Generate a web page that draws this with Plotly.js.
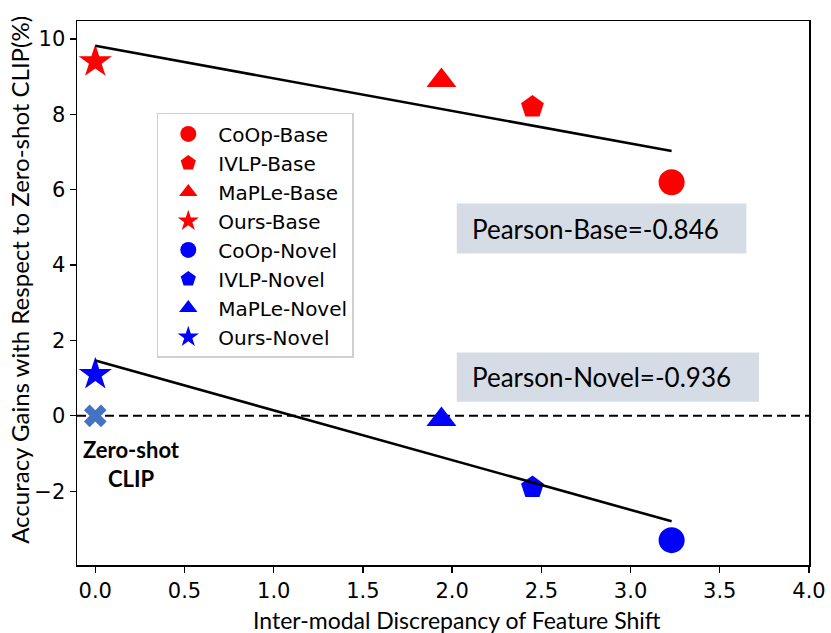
<!DOCTYPE html>
<html>
<head>
<meta charset="utf-8">
<script src="https://cdn.plot.ly/plotly-3.0.1.min.js"></script>
<style>
  html, body { margin: 0; padding: 0; background: #fff; }
  #chart { width: 831px; height: 633px; }
</style>
</head>
<body>
<div id="chart"></div>
<script>
// values
var methods = ['CoOp', 'IVLP', 'MaPLe', 'Ours'];
var shift = [3.23, 2.45, 1.94, 0.0];           // inter-modal discrepancy
var baseGain = [6.2, 8.2, 8.9, 9.4];           // gain on base classes (%)
var novelGain = [-3.3, -1.9, -0.1, 1.1];       // gain on novel classes (%)
var zeroShot = {x: [0.0], y: [0.0]};           // zero-shot CLIP reference point
var pearsonBase = '-0.846';
var pearsonNovel = '-0.936';

var symbols = ['circle', 'pentagon', 'triangle-up', 'star'];
var sizes = [26, 24, 26, 25];

// least-squares line through a group, drawn across its x extent
function fitLine(xs, ys) {
  var n = xs.length, mx = 0, my = 0;
  for (var i = 0; i < n; i++) { mx += xs[i]; my += ys[i]; }
  mx /= n; my /= n;
  var sxy = 0, sxx = 0;
  for (var i = 0; i < n; i++) {
    sxy += (xs[i] - mx) * (ys[i] - my);
    sxx += (xs[i] - mx) * (xs[i] - mx);
  }
  var k = sxy / sxx, b = my - k * mx;
  var x0 = Math.min.apply(null, xs), x1 = Math.max.apply(null, xs);
  return {x: [x0, x1], y: [b + k * x0, b + k * x1]};
}

var traces = [];
var groups = [
  {name: 'Base', vals: baseGain, color: '#ff0000'},
  {name: 'Novel', vals: novelGain, color: '#0000ff'}
];
groups.forEach(function (g) {
  for (var i = 0; i < methods.length; i++) {
    traces.push({
      type: 'scatter', mode: 'markers',
      name: methods[i] + '-' + g.name,
      x: [shift[i]], y: [g.vals[i]],
      marker: {symbol: symbols[i], size: sizes[i], color: g.color, line: {width: 0}}
    });
  }
});
groups.forEach(function (g) {
  var f = fitLine(shift, g.vals);
  traces.push({
    type: 'scatter', mode: 'lines', showlegend: false, hoverinfo: 'skip',
    x: f.x, y: f.y, line: {color: '#000', width: 2.6}
  });
});
traces.push({
  type: 'scatter', mode: 'markers', showlegend: false, name: 'Zero-shot CLIP',
  x: zeroShot.x, y: zeroShot.y,
  marker: {symbol: 'x', size: 20, color: '#4472c4', line: {width: 0}}
});

var tickFont = {family: 'DejaVu Sans', size: 21, color: '#000'};
var titleFont = {family: 'Lato', size: 23, color: '#000'};

var layout = {
  width: 831, height: 633,
  margin: {l: 77, r: 22, t: 21, b: 68},
  paper_bgcolor: '#fff', plot_bgcolor: '#fff',
  showlegend: true,
  legend: {
    x: 0.109, y: 0.831, xanchor: 'left', yanchor: 'top',
    bgcolor: '#fff', bordercolor: '#d0d0d0', borderwidth: 1.5,
    font: {family: 'DejaVu Sans', size: 20, color: '#000'},
    itemwidth: 50, tracegroupgap: 0
  },
  xaxis: {
    range: [-0.1025, 4.0], zeroline: false, showgrid: false,
    tickvals: [0, 0.5, 1, 1.5, 2, 2.5, 3, 3.5, 4],
    ticktext: ['0.0', '0.5', '1.0', '1.5', '2.0', '2.5', '3.0', '3.5', '4.0'],
    ticks: 'outside', ticklen: 6, tickwidth: 1.3, tickcolor: '#000',
    showline: true, mirror: true, linecolor: '#000', linewidth: 1.5,
    tickfont: tickFont
  },
  yaxis: {
    range: [-3.96, 10.48], zeroline: false, showgrid: false,
    tickvals: [-2, 0, 2, 4, 6, 8, 10],
    ticks: 'outside', ticklen: 6, tickwidth: 1.3, tickcolor: '#000',
    showline: true, mirror: true, linecolor: '#000', linewidth: 1.5,
    tickfont: tickFont
  },
  shapes: [
    {type: 'line', xref: 'paper', x0: 0, x1: 1, yref: 'y', y0: zeroShot.y[0], y1: zeroShot.y[0],
     line: {color: '#000', width: 2, dash: '9px,5px'}, layer: 'below'},
    {type: 'rect', xref: 'x', yref: 'y', x0: 2.026, x1: 3.649, y0: 4.308, y1: 5.634,
     fillcolor: '#d6dce5', line: {width: 0}, layer: 'below'},
    {type: 'rect', xref: 'x', yref: 'y', x0: 2.026, x1: 3.72, y0: 0.371, y1: 1.68,
     fillcolor: '#d6dce5', line: {width: 0}, layer: 'below'}
  ],
  annotations: [
    // axis titles as annotations so they can sit off-centre like the original
    {xref: 'paper', yref: 'paper', x: 0.519, y: -0.101, xanchor: 'center', yanchor: 'middle',
     showarrow: false, text: 'Inter-modal Discrepancy of Feature Shift', font: titleFont},
    {xref: 'paper', yref: 'paper', x: -0.078, y: 0.524, xanchor: 'center', yanchor: 'middle',
     showarrow: false, textangle: -90, text: 'Accuracy Gains with Respect to Zero-shot CLIP(%)',
     font: {family: 'Lato', size: 24, color: '#000'}},
    {xref: 'x', yref: 'y', x: 2.1, y: 4.97, xanchor: 'left', yanchor: 'middle', showarrow: false,
     text: 'Pearson-Base=' + pearsonBase, font: {family: 'Lato', size: 26, color: '#000'}},
    {xref: 'x', yref: 'y', x: 2.1, y: 1.03, xanchor: 'left', yanchor: 'middle', showarrow: false,
     text: 'Pearson-Novel=' + pearsonNovel, font: {family: 'Lato', size: 26, color: '#000'}},
    {xref: 'x', yref: 'y', x: 0.203, y: -1.29, xanchor: 'center', yanchor: 'middle', showarrow: false,
     align: 'center', text: '<b>Zero-shot<br>CLIP</b>', font: {family: 'Lato', size: 22, color: '#000'}}
  ]
};

Plotly.newPlot('chart', traces, layout, {displayModeBar: false, staticPlot: true});
</script>
</body>
</html>
